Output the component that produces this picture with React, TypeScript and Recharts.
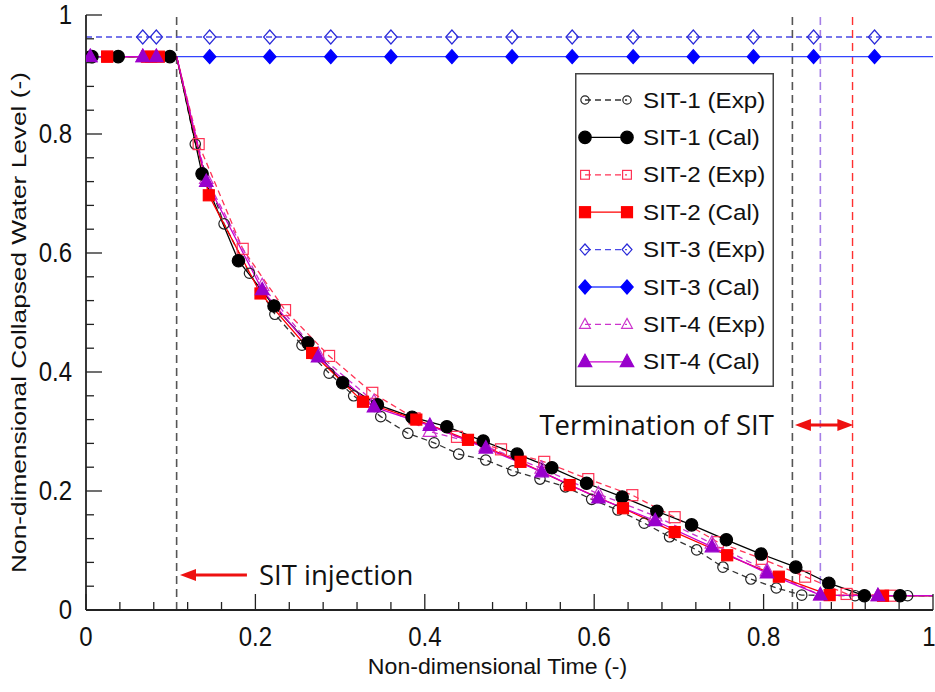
import { LineChart, Line, XAxis, YAxis, ReferenceLine, Legend } from "recharts";

// time where the SIT injection starts (corner of every curve)
const injectionTime = 0.107;
// end of injection: SIT-1, SIT-4, SIT-2
const terminationTimes = [0.834, 0.867, 0.905];

const xMajorTicks = [0, 0.2, 0.4, 0.6, 0.8, 1];
const yMajorTicks = [0, 0.2, 0.4, 0.6, 0.8, 1];
const allTicks = [
  0, 0.04, 0.08, 0.12, 0.16, 0.2, 0.24, 0.28, 0.32, 0.36, 0.4, 0.44, 0.48, 0.52,
  0.56, 0.6, 0.64, 0.68, 0.72, 0.76, 0.8, 0.84, 0.88, 0.92, 0.96, 1,
];

const sit1ExpX = [0.003, 0.038, 0.107, 0.129, 0.163, 0.193, 0.223, 0.255, 0.287, 0.316, 0.348, 0.38, 0.411, 0.44, 0.472, 0.504, 0.536, 0.566, 0.597, 0.628, 0.659, 0.689, 0.721, 0.752, 0.785, 0.815, 0.845, 0.908, 0.97, 1.0];
const sit1ExpY = [0.93, 0.93, 0.93, 0.783, 0.649, 0.566, 0.497, 0.445, 0.398, 0.36, 0.325, 0.297, 0.281, 0.262, 0.252, 0.234, 0.22, 0.207, 0.186, 0.168, 0.146, 0.123, 0.101, 0.072, 0.052, 0.037, 0.025, 0.024, 0.024, 0.024];

const sit1CalX = [0.007, 0.038, 0.099, 0.107, 0.137, 0.18, 0.222, 0.262, 0.303, 0.344, 0.385, 0.426, 0.469, 0.509, 0.55, 0.591, 0.633, 0.674, 0.715, 0.756, 0.797, 0.838, 0.877, 0.919, 0.961, 1.0];
const sit1CalY = [0.93, 0.93, 0.93, 0.93, 0.733, 0.587, 0.511, 0.449, 0.382, 0.345, 0.324, 0.308, 0.284, 0.262, 0.239, 0.213, 0.19, 0.166, 0.143, 0.118, 0.094, 0.072, 0.045, 0.024, 0.024, 0.024];

const sit2ExpX = [0.025, 0.077, 0.107, 0.133, 0.185, 0.235, 0.287, 0.338, 0.388, 0.438, 0.49, 0.541, 0.593, 0.645, 0.695, 0.746, 0.798, 0.849, 0.898, 0.95, 1.0];
const sit2ExpY = [0.93, 0.93, 0.93, 0.783, 0.607, 0.504, 0.427, 0.365, 0.322, 0.291, 0.27, 0.249, 0.22, 0.193, 0.156, 0.114, 0.086, 0.056, 0.027, 0.024, 0.024];

const sit2CalX = [0.025, 0.072, 0.086, 0.107, 0.145, 0.206, 0.267, 0.327, 0.39, 0.451, 0.513, 0.571, 0.634, 0.695, 0.757, 0.818, 0.878, 0.941, 1.0];
const sit2CalY = [0.93, 0.93, 0.93, 0.93, 0.697, 0.532, 0.432, 0.35, 0.32, 0.286, 0.249, 0.21, 0.171, 0.131, 0.092, 0.056, 0.025, 0.024, 0.024];

const sit3ExpX = [0, 0.067, 0.083, 0.146, 0.217, 0.289, 0.36, 0.432, 0.503, 0.574, 0.646, 0.717, 0.788, 0.859, 0.931, 1.0];
const sit3ExpY = [0.963, 0.963, 0.963, 0.963, 0.963, 0.963, 0.963, 0.963, 0.963, 0.963, 0.963, 0.963, 0.963, 0.963, 0.963, 0.963];

const sit3CalX = [0, 0.146, 0.217, 0.289, 0.36, 0.432, 0.503, 0.574, 0.646, 0.717, 0.788, 0.859, 0.931, 1.0];
const sit3CalY = [0.93, 0.93, 0.93, 0.93, 0.93, 0.93, 0.93, 0.93, 0.93, 0.93, 0.93, 0.93, 0.93, 0.93];

const sit4ExpX = [0.005, 0.067, 0.083, 0.107, 0.142, 0.208, 0.274, 0.34, 0.406, 0.472, 0.538, 0.605, 0.672, 0.739, 0.804, 0.867, 0.935, 1.0];
const sit4ExpY = [0.93, 0.93, 0.93, 0.93, 0.725, 0.545, 0.43, 0.35, 0.3, 0.275, 0.238, 0.195, 0.158, 0.112, 0.066, 0.025, 0.024, 0.024];

const sit4CalX = [0.005, 0.067, 0.083, 0.107, 0.142, 0.208, 0.274, 0.34, 0.406, 0.472, 0.538, 0.605, 0.672, 0.739, 0.804, 0.867, 0.935, 1.0];
const sit4CalY = [0.93, 0.93, 0.93, 0.93, 0.72, 0.538, 0.425, 0.341, 0.31, 0.272, 0.232, 0.188, 0.15, 0.106, 0.062, 0.025, 0.024, 0.024];

const pts = (xs: number[], ys: number[]) => xs.map((x, i) => ({ x, y: ys[i] }));

type Shape = "circle" | "square" | "diamond" | "triangle";
type Series = {
  name: string;
  data: { x: number; y: number }[];
  shape: Shape;
  filled: boolean;
  color: string;
  lineColor: string;
  dash?: string;
};

const series: Series[] = [
  { name: "SIT-1 (Exp)", data: pts(sit1ExpX, sit1ExpY), shape: "circle", filled: false, color: "#222", lineColor: "#333", dash: "6 4" },
  { name: "SIT-1 (Cal)", data: pts(sit1CalX, sit1CalY), shape: "circle", filled: true, color: "#000", lineColor: "#000" },
  { name: "SIT-2 (Exp)", data: pts(sit2ExpX, sit2ExpY), shape: "square", filled: false, color: "#ff3355", lineColor: "#ff3355", dash: "6 4" },
  { name: "SIT-2 (Cal)", data: pts(sit2CalX, sit2CalY), shape: "square", filled: true, color: "#ff0000", lineColor: "#ff0000" },
  { name: "SIT-3 (Exp)", data: pts(sit3ExpX, sit3ExpY), shape: "diamond", filled: false, color: "#2a2ad8", lineColor: "#4a4ae6", dash: "6 4" },
  { name: "SIT-3 (Cal)", data: pts(sit3CalX, sit3CalY), shape: "diamond", filled: true, color: "#0000ff", lineColor: "#3344ff" },
  { name: "SIT-4 (Exp)", data: pts(sit4ExpX, sit4ExpY), shape: "triangle", filled: false, color: "#cc33cc", lineColor: "#cc33cc", dash: "6 4" },
  { name: "SIT-4 (Cal)", data: pts(sit4CalX, sit4CalY), shape: "triangle", filled: true, color: "#9900cc", lineColor: "#cc00cc" },
];

// drawing order: SIT-3 at the back, calculated curves over the experiments
const drawOrder = [4, 5, 0, 2, 6, 1, 3, 7];

const tickFont = "'Liberation Sans', Arial, sans-serif";
const noteFont = "'Open Sans', sans-serif";

function Marker({ cx, cy, shape, color, filled, k = 1 }: any) {
  const fill = filled ? color : "none";
  const sw = 1.2;
  if (shape === "circle") {
    return <circle cx={cx} cy={cy} r={(filled ? 6.2 : 5.2) * k} fill={fill} stroke={color} strokeWidth={sw} />;
  }
  if (shape === "square") {
    const h = 5.5 * k;
    return <rect x={cx - h} y={cy - h} width={2 * h} height={2 * h} fill={fill} stroke={color} strokeWidth={sw} />;
  }
  if (shape === "diamond") {
    const r = 7 * k;
    const w = 6.2 * k;
    return <polygon points={`${cx},${cy - r} ${cx + w},${cy} ${cx},${cy + r} ${cx - w},${cy}`} fill={fill} stroke={color} strokeWidth={sw} />;
  }
  const r = 7.5 * k;
  return <polygon points={`${cx},${cy - r} ${cx + r * 0.9},${cy + r * 0.65} ${cx - r * 0.9},${cy + r * 0.65}`} fill={fill} stroke={color} strokeWidth={sw} />;
}

const isMajor = (v: number, majors: number[]) => majors.some((m) => Math.abs(m - v) < 1e-6);
const fmt = (v: number) => (v === 0 ? "0" : v === 1 ? "1" : String(Math.round(v * 10) / 10));

function TickText({ x, y, anchor, children }: any) {
  // the figure's digits are drawn a bit taller than plain Arial
  return (
    <text
      transform={`translate(${x} ${y}) scale(1 1.12)`}
      textAnchor={anchor}
      dominantBaseline="central"
      fontSize={24}
      fontFamily={tickFont}
      fill="#111"
    >
      {children}
    </text>
  );
}

function BottomTick({ x, y, payload }: any) {
  const major = isMajor(payload.value, xMajorTicks);
  return (
    <g>
      <line x1={x} y1={y} x2={x} y2={y - (major ? 16 : 8)} stroke="#222" strokeWidth={1.3} />
      {major && (
        <TickText x={payload.value === 1 ? x - 4 : x} y={y + 27} anchor="middle">
          {fmt(payload.value)}
        </TickText>
      )}
    </g>
  );
}

function TopTick({ x, y, payload }: any) {
  const major = isMajor(payload.value, xMajorTicks);
  return <line x1={x} y1={y} x2={x} y2={y + (major ? 16 : 8)} stroke="#222" strokeWidth={1.3} />;
}

function LeftTick({ x, y, payload }: any) {
  const major = isMajor(payload.value, yMajorTicks);
  return (
    <g>
      <line x1={x} y1={y} x2={x + (major ? 16 : 8)} y2={y} stroke="#222" strokeWidth={1.3} />
      {major && (
        <TickText x={x - 14} y={y} anchor="end">
          {fmt(payload.value)}
        </TickText>
      )}
    </g>
  );
}

function RightTick({ x, y, payload }: any) {
  const major = isMajor(payload.value, yMajorTicks);
  return <line x1={x} y1={y} x2={x - (major ? 16 : 8)} y2={y} stroke="#222" strokeWidth={1.3} />;
}

function arrowHead(tipX: number, tipY: number, dir: number) {
  return `${tipX},${tipY} ${tipX - dir * 16},${tipY - 6} ${tipX - dir * 16},${tipY + 6}`;
}

function InjectionArrow({ x1, y1, x2 }: any) {
  return (
    <g>
      <line x1={x1} y1={y1} x2={x2 + 12} y2={y1} stroke="#ee1111" strokeWidth={3} />
      <polygon points={arrowHead(x2, y1, -1)} fill="#ee1111" />
      <text x={x1 + 12} y={y1} dominantBaseline="central" fontSize={27.5} fontFamily={noteFont} fill="#111">
        SIT injection
      </text>
    </g>
  );
}

function TerminationArrow({ x1, y1, x2 }: any) {
  return (
    <g>
      <line x1={x1 + 12} y1={y1} x2={x2 - 12} y2={y1} stroke="#ee1111" strokeWidth={3} />
      <polygon points={arrowHead(x1, y1, -1)} fill="#ee1111" />
      <polygon points={arrowHead(x2, y1, 1)} fill="#ee1111" />
      <text x={x1 - 21} y={y1} textAnchor="end" dominantBaseline="central" fontSize={27.5} fontFamily={noteFont} fill="#111">
        Termination of SIT
      </text>
    </g>
  );
}

function LegendBox() {
  return (
    <svg width={199} height={314} style={{ display: "block" }}>
      <rect x={0.75} y={0.75} width={197.5} height={312.5} fill="#fff" stroke="#444" strokeWidth={1.5} />
      {series.map((s, i) => {
        const y = 27 + i * 37.4;
        return (
          <g key={s.name}>
            <line x1={10} x2={52} y1={y} y2={y} stroke={s.lineColor} strokeWidth={1.3} strokeDasharray={s.dash} />
            <Marker cx={10} cy={y} shape={s.shape} color={s.color} filled={s.filled} k={s.filled ? 1 : 0.8} />
            <Marker cx={52} cy={y} shape={s.shape} color={s.color} filled={s.filled} k={s.filled ? 1 : 0.8} />
            <text
              transform={`translate(68 ${y}) scale(1.1 1)`}
              dominantBaseline="central"
              fontSize={22}
              fontFamily={tickFont}
              fill="#111"
            >
              {s.name}
            </text>
          </g>
        );
      })}
    </svg>
  );
}

export default function App() {
  return (
    <div style={{ position: "absolute", left: 0, top: 0, width: 935, height: 692, background: "#fff" }}>
      <LineChart width={935} height={692} margin={{ top: 15, right: 2, bottom: 0, left: 0 }}>
        <XAxis
          type="number"
          dataKey="x"
          domain={[0, 1]}
          ticks={allTicks}
          interval={0}
          allowDataOverflow
          height={82}
          tickSize={0}
          tickMargin={0}
          tickLine={false}
          axisLine={{ stroke: "#222", strokeWidth: 1.8 }}
          tick={<BottomTick />}
          label={(p: any) => (
            <text
              transform={`translate(${p.viewBox.x + p.viewBox.width / 2 - 12} ${p.viewBox.y + 57}) scale(1.1 1.05)`}
              textAnchor="middle"
              dominantBaseline="central"
              fontSize={21}
              fontFamily={tickFont}
              fill="#111"
            >
              Non-dimensional Time (-)
            </text>
          )}
        />
        <XAxis
          xAxisId="top"
          orientation="top"
          type="number"
          dataKey="x"
          domain={[0, 1]}
          ticks={allTicks}
          interval={0}
          allowDataOverflow
          height={0}
          tickSize={0}
          tickMargin={0}
          tickLine={false}
          axisLine={{ stroke: "#222", strokeWidth: 1.8 }}
          tick={<TopTick />}
        />
        <YAxis
          type="number"
          domain={[0, 1]}
          ticks={allTicks}
          interval={0}
          allowDataOverflow
          width={86}
          tickSize={0}
          tickMargin={0}
          tickLine={false}
          axisLine={{ stroke: "#222", strokeWidth: 1.8 }}
          tick={<LeftTick />}
          label={(p: any) => {
            const cx = 18;
            const cy = p.viewBox.y + p.viewBox.height / 2 + 10;
            return (
              <text
                transform={`translate(${cx} ${cy}) rotate(-90) scale(1.25 1)`}
                textAnchor="middle"
                dominantBaseline="central"
                fontSize={21}
                fontFamily={tickFont}
                fill="#111"
              >
                Non-dimensional Collapsed Water Level (-)
              </text>
            );
          }}
        />
        <YAxis
          yAxisId="right"
          orientation="right"
          type="number"
          domain={[0, 1]}
          ticks={allTicks}
          interval={0}
          allowDataOverflow
          width={0}
          tickSize={0}
          tickMargin={0}
          tickLine={false}
          axisLine={{ stroke: "#222", strokeWidth: 1.8 }}
          tick={<RightTick />}
        />
        <ReferenceLine x={injectionTime} stroke="#555" strokeWidth={1.6} strokeDasharray="8 5" />
        <ReferenceLine x={terminationTimes[0]} stroke="#555" strokeWidth={1.6} strokeDasharray="8 5" />
        <ReferenceLine x={terminationTimes[1]} stroke="#a57ee6" strokeWidth={1.6} strokeDasharray="8 5" />
        <ReferenceLine x={terminationTimes[2]} stroke="#ff3030" strokeWidth={1.4} strokeDasharray="8 5" />
        {drawOrder.map((i) => {
          const s = series[i];
          return (
            <Line
              key={s.name}
              data={s.data}
              dataKey="y"
              name={s.name}
              type="linear"
              stroke={s.lineColor}
              strokeWidth={1.3}
              strokeDasharray={s.dash}
              isAnimationActive={false}
              dot={(p: any) => {
                const v = p.payload.x;
                if (v <= 0 || v >= 1 || v === injectionTime) return <g key={`${s.name}-${p.index}`} />;
                return <Marker key={`${s.name}-${p.index}`} cx={p.cx} cy={p.cy} shape={s.shape} color={s.color} filled={s.filled} />;
              }}
              activeDot={false}
            />
          );
        })}
        <ReferenceLine
          segment={[{ x: 0.19, y: 0.059 }, { x: 0.111, y: 0.059 }]}
          shape={(p: any) => <InjectionArrow {...p} />}
        />
        <ReferenceLine
          segment={[{ x: 0.837, y: 0.311 }, { x: 0.906, y: 0.311 }]}
          shape={(p: any) => <TerminationArrow {...p} />}
        />
        <Legend
          layout="vertical"
          align="center"
          verticalAlign="middle"
          wrapperStyle={{ left: 575, top: 73, width: 199, height: 314 }}
          content={() => <LegendBox />}
        />
      </LineChart>
    </div>
  );
}
